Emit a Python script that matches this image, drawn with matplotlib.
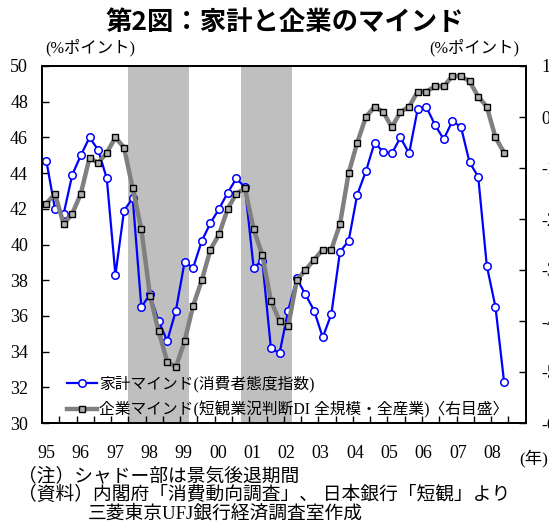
import numpy as np
import matplotlib.pyplot as plt
from matplotlib.ticker import FixedLocator

plt.rcParams['font.family'] = ['Liberation Serif', 'Noto Sans CJK JP']
plt.rcParams['axes.unicode_minus'] = False

# quarterly data, 1995Q1 - 2008Q2
year_labels = ['95', '96', '97', '98', '99', '00', '01', '02', '03', '04', '05', '06', '07', '08']
household = [44.7, 42.0, 41.7, 43.9, 45.0, 46.0, 45.3, 43.7, 38.3, 41.9,
             42.6, 36.5, 37.2, 35.7, 34.6, 36.3, 39.0, 38.7, 40.2, 41.2,
             42.0, 42.9, 43.7, 43.2, 38.7, 39.1, 34.2, 33.9, 36.3, 38.1,
             37.2, 36.3, 34.8, 36.1, 39.6, 40.2, 42.8, 44.1, 45.7, 45.2,
             45.1, 46.0, 45.1, 47.6, 47.7, 46.7, 45.9, 46.9, 46.6, 44.6,
             43.8, 38.8, 36.5, 32.3]
business = [-17, -15, -21, -19, -15, -8, -9, -7, -4, -6,
            -14, -22, -35, -42, -48, -49, -44, -37, -32, -26,
            -23, -18, -15, -14, -22, -27, -36, -40, -41, -32,
            -30, -28, -26, -26, -21, -11, -5, 0, 2, 1,
            -2, 1, 2, 5, 5, 6, 6, 8, 8, 7,
            4, 2, -4, -7]
recessions = [(9.5, 16.5), (22.5, 28.5)]

x = np.arange(len(household))

fig = plt.figure(figsize=(5.49, 5.30), dpi=100)
ax = fig.add_axes([42 / 549, 1 - 423 / 530, 483.7 / 549, 357 / 530])
ax2 = ax.twinx()

for start, end in recessions:
    ax.axvspan(start, end, color='#bfbfbf', lw=0, zorder=0)

l1, = ax.plot(x, household, color='#0000ff', lw=1.6, marker='o', ms=5.4,
              mfc='white', mec='#0000ff', mew=1.1, zorder=3,
              label='家計マインド(消費者態度指数)')
l2, = ax2.plot(x, business, color='#808080', lw=3.2, marker='s', ms=5,
               mfc='#b0b0b0', mec='black', mew=1.0, zorder=3,
               label='企業マインド(短観業況判断DI 全規模・全産業)〈右目盛〉')

ax.set_xlim(-0.5, 55.5)
ax.set_ylim(30, 50)
ax.set_yticks(np.arange(30, 51, 2))
ax2.set_ylim(-60, 10)
ax2.set_yticks(np.arange(-60, 11, 10))

ax.set_xticks(np.arange(len(year_labels)) * 3.97)
ax.set_xticklabels(year_labels)
ax.xaxis.set_minor_locator(FixedLocator(np.arange(1.5, 55, 2)))
ax.tick_params(axis='x', which='major', length=0, pad=16, labelsize=13)
ax.tick_params(axis='x', which='minor', direction='in', length=5, width=1)
ax.tick_params(axis='y', direction='in', length=5, width=1, pad=10, labelsize=13)
ax2.tick_params(axis='y', direction='in', length=5, width=1, pad=11, labelsize=13)

for a in (ax, ax2):
    for s in a.spines.values():
        s.set_linewidth(1.3)

leg = ax2.legend(handles=[l1, l2], loc='lower left', bbox_to_anchor=(0.028, -0.018),
                 frameon=False, fontsize=11.3, handlelength=1.95, handletextpad=0.15,
                 labelspacing=0.55, borderpad=0.2)

fig.text(0.518, 1 - 22 / 530, '第2図：家計と企業のマインド', ha='center', va='center',
         fontsize=19, fontweight='bold', family=['Noto Sans CJK JP'])
fig.text(45 / 549, 1 - 48 / 530, '(%ポイント)', ha='left', va='center', fontsize=11.8)
fig.text(519 / 549, 1 - 48 / 530, '(%ポイント)', ha='right', va='center', fontsize=11.8)
fig.text(519 / 549, 1 - 458 / 530, '(年)', ha='left', va='center', fontsize=12.5)

fig.text(18 / 549, 1 - 476 / 530, '（注）シャドー部は景気後退期間', ha='left', va='center', fontsize=13.5)
fig.text(18 / 549, 1 - 495 / 530, '（資料）内閣府「消費動向調査」、 日本銀行「短観」より',
         ha='left', va='center', fontsize=13.5)
fig.text(88 / 549, 1 - 514 / 530, '三菱東京UFJ銀行経済調査室作成', ha='left', va='center', fontsize=13.5)

fig.savefig('out.png', dpi=100)
